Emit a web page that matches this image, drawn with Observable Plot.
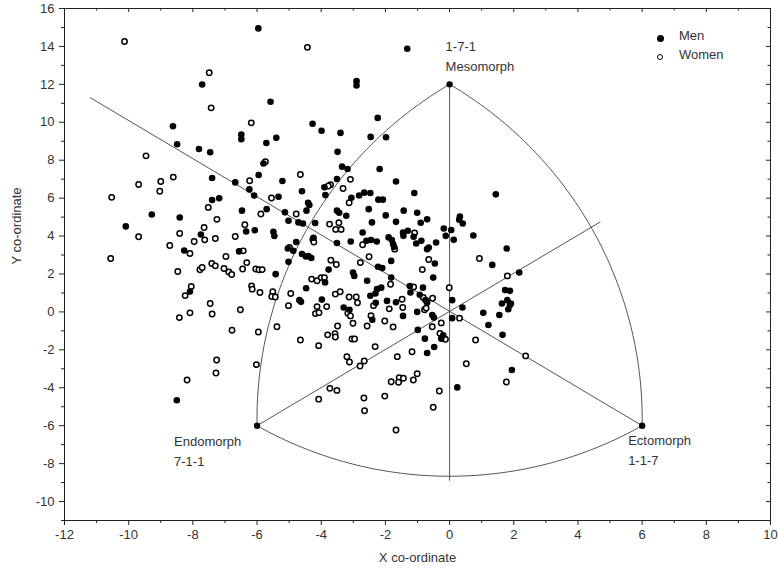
<!DOCTYPE html>
<html><head><meta charset="utf-8">
<script src="https://cdn.jsdelivr.net/npm/d3@7"></script>
<script src="https://cdn.jsdelivr.net/npm/@observablehq/plot@0.6"></script>
<style>
body{margin:0;background:#fff;}
#wrap{position:relative;width:778px;height:570px;font-family:"Liberation Sans",Arial,sans-serif;}
.leg{position:absolute;font-size:13px;color:#333;line-height:1;}
.dot{position:absolute;border-radius:50%;box-sizing:border-box;}
</style></head><body><div id="wrap"></div>
<script>
// ---- data (somatochart coordinates) ----
const men = [
[-7.71,11.99],[-8.62,9.79],[-8.49,8.84],[-7.81,8.59],[-7.46,8.42],[-6.49,9.35],[-6.49,9.11],
[-5.96,14.95],[-1.32,13.88],[-2.90,12.17],[-2.90,11.94],[-5.58,11.08],[-4.27,9.92],[-3.99,9.55],[-3.40,9.44],[-5.71,8.91],[-5.40,9.18],[-3.49,8.44],[-2.24,10.23],[-2.46,9.23],[-1.98,9.21],
[-7.40,7.06],[-6.68,6.83],[-7.40,5.90],[-7.18,5.99],[-6.47,5.34],[-9.28,5.14],[-8.41,4.98],[-10.09,4.51],[-7.75,4.08],[-8.27,3.24],[-6.56,3.19],[-8.09,1.07],[-8.50,-4.66],
[-5.80,7.83],[-3.35,7.66],[-3.18,7.54],[-2.18,7.54],[-5.95,7.22],[-5.21,6.90],[-1.67,6.88],[-3.51,7.01],[-3.90,6.57],[-4.60,6.36],[-6.24,6.46],[-6.09,6.14],[-5.33,6.07],[-3.87,6.16],[-3.06,6.02],[-2.82,6.14],[-2.66,6.29],[-2.47,6.27],[-2.22,5.92],[-2.08,5.92],[-4.41,5.76],[-4.37,5.64],[-2.52,5.42],[-1.43,5.34],[-5.70,5.42],[-5.13,5.25],[-4.46,5.34],[-3.51,5.34],[-3.44,5.23],[-3.22,5.07],[-1.99,5.09],[-5.02,4.81],[-4.71,4.72],[-4.57,4.66],[-4.19,4.69],[-2.42,4.72],[-1.67,4.75],[-6.34,4.24],[-6.07,4.31],[-5.49,4.23],[-5.46,4.00],[-4.24,3.91],[-2.71,4.19],[-1.90,3.93],[-1.80,3.79],[-3.08,3.71],[-2.59,3.75],[-2.45,3.79],[-2.27,3.71],[-3.51,3.63],[-4.78,3.68],[-1.76,3.58],[-1.73,3.43],[-5.04,3.34],[-4.87,3.22],[-4.60,3.05],[-4.48,2.92],[-4.40,2.94],[-4.31,2.84],[-5.02,2.64],[-5.42,1.99],[-3.77,2.23],[-1.82,2.69],[-2.23,2.38],[-2.10,2.31],[-3.01,2.08],[-2.97,1.90],[-1.82,1.81],[-4.47,1.25],[-3.88,1.55],[-2.57,1.64],[-2.13,1.28],[-2.26,1.20],[-4.68,0.62],[-4.63,0.53],[-3.98,0.65],[-2.47,0.85],[-2.31,0.97],[-1.95,0.58],
[-3.30,0.23],[-3.12,0.11],[-2.30,0.48],[-1.67,0.51],[-2.41,-0.41],
[-1.10,6.27],[1.44,6.20],[-1.01,5.23],[-0.90,4.70],[-0.70,4.88],[0.32,5.03],[0.30,4.86],[0.41,4.66],[-0.18,4.40],[0.05,4.32],[-0.12,4.01],[0.13,3.80],[0.74,4.03],[-1.45,4.19],[-1.30,4.28],[-1.44,4.01],[-1.12,3.96],[-0.88,3.75],[-1.04,3.61],[-0.42,3.66],[-0.65,3.40],[-0.70,3.31],[1.78,3.34],[-0.46,2.55],[1.33,2.48],[-0.51,1.81],[2.17,2.08],[-1.24,1.37],[-1.22,1.02],[-0.83,1.28],[-0.93,0.90],[-0.75,0.62],[-0.70,0.49],[0.08,0.62],[1.73,1.15],[1.88,1.11],[1.80,0.62],[1.91,0.44],[1.63,0.44],
[-1.45,-0.21],[-1.01,0.00],[-0.54,-0.16],[-0.49,-0.30],[0.08,-0.33],[0.40,0.23],[-0.99,-0.95],[-0.20,-1.23],[-0.26,-1.41],[-0.77,-1.41],[-0.48,-1.85],[-0.70,-2.17],[1.05,-0.05],[1.55,-0.16],[1.83,0.14],[1.88,0.37],[1.21,-0.69],[1.65,-1.21],[1.94,-3.06],[0.24,-3.98]
];
const women = [
[-10.13,14.26],[-7.49,12.61],[-7.43,10.76],[-9.46,8.23],
[-4.43,13.95],[-6.18,9.97],[-5.74,7.92],
[-10.53,6.04],[-9.69,6.72],[-9.00,6.88],[-9.03,6.36],[-8.61,7.11],[-7.52,5.51],[-7.25,4.88],[-9.69,3.96],[-8.41,4.14],[-7.65,4.45],[-7.63,3.80],[-7.30,3.87],[-7.96,3.71],[-6.68,3.98],[-8.72,3.50],[-8.09,3.08],[-6.43,3.22],[-10.56,2.82],[-6.97,2.92],[-8.47,2.13],[-7.78,2.22],[-7.71,2.34],[-7.41,2.55],[-7.30,2.43],[-7.03,2.29],[-6.88,2.11],[-6.79,1.97],[-6.45,2.26],[-8.05,1.34],[-8.24,0.86],[-7.46,0.44],
[-8.42,-0.30],[-8.09,-0.05],[-7.40,-0.11],[-6.52,0.11],[-6.78,-0.97],[-7.26,-2.54],[-7.28,-3.22],[-8.18,-3.59],
[-4.65,7.25],[-6.23,6.92],[-3.71,6.71],[-3.78,6.64],[-3.09,6.99],[-3.32,6.51],[-5.55,6.01],[-3.13,5.76],[-5.88,5.16],[-4.78,5.16],[-3.74,4.63],[-3.45,4.70],[-3.55,4.35],[-3.38,4.35],[-6.38,4.60],[-4.26,3.82],[-4.23,3.68],[-2.71,3.54],[-1.71,3.31],[-4.99,3.40],[-6.32,2.60],[-6.04,2.26],[-5.94,2.22],[-5.84,2.23],[-3.70,2.73],[-3.53,2.50],[-2.78,2.60],[-2.51,2.91],[-4.30,1.73],[-4.13,1.64],[-4.00,1.81],[-3.90,1.81],[-6.17,1.37],[-6.15,1.20],[-1.84,1.46],[-5.91,1.02],[-5.51,1.06],[-5.54,0.81],[-5.43,0.79],[-4.95,0.97],[-3.56,0.94],[-3.41,1.06],[-3.13,0.79],[-2.91,0.79],[-1.48,0.67],
[-5.02,0.33],[-4.13,0.28],[-3.83,0.28],[-4.18,-0.09],[-4.07,-0.04],[-3.17,-0.07],[-3.09,-0.21],[-2.87,0.48],[-2.37,0.33],[-1.88,0.16],[-1.46,0.23],[-2.45,-0.20],[-2.02,-0.48],[-1.76,-0.79],[-5.38,-0.78],[-5.96,-1.06],[-3.01,-0.60],[-2.57,-0.74],[-3.49,-0.74],[-3.80,-1.21],[-3.57,-1.15],[-3.56,-1.32],[-4.65,-1.48],[-3.04,-1.43],[-2.96,-1.43],[-4.08,-1.78],[-2.32,-1.83],[-3.20,-2.36],[-3.12,-2.64],[-2.66,-2.59],[-2.79,-2.85],[-1.63,-2.36],[-6.02,-2.78],[-1.57,-3.47],[-1.44,-3.50],[-1.82,-3.68],[-1.59,-3.71],[-3.73,-4.03],[-3.51,-4.14],[-4.08,-4.60],[-2.67,-4.54],[-2.02,-4.44],[-2.65,-5.21],[-1.67,-6.23],
[-1.09,4.16],[-0.65,2.76],[-0.85,2.23],[0.93,2.82],[1.80,1.90],[-0.01,1.27],[-1.12,1.32],[-0.82,0.76],[-0.53,0.72],
[-0.78,0.11],[-0.73,0.20],[-0.26,-0.58],[0.31,-0.33],[-0.54,-0.78],[-0.30,-1.13],[-0.13,-1.44],[-1.17,-2.10],[0.81,-1.48],[2.37,-2.32],[1.77,-3.70],[0.52,-2.73],[-1.01,-3.26],[-1.13,-3.59],[-0.32,-4.17],[-0.51,-5.03]
];
// somatotype reference vertices
const vertexNames = ["Mesomorph", "Endomorph", "Ectomorph"];
const vertexCodes = ["1-7-1", "7-1-1", "1-1-7"];
const vertexX = [0, -6, 6];
const vertexY = [12, -6, -6];
// axis lines through the origin (end points)
const axisLineX1 = [0, 6, -6], axisLineY1 = [12, -6, -6];
const axisLineX2 = [0, -11.2, 4.7], axisLineY2 = [-8.9, 11.3, 4.75];
const xTicks = [-12,-10,-8,-6,-4,-2,0,2,4,6,8,10];
const yTicks = [-10,-8,-6,-4,-2,0,2,4,6,8,10,12,14,16];
const xMinor = [-11,-9,-7,-5,-3,-1,1,3,5,7,9];
const yMinor = [-11,-9,-7,-5,-3,-1,1,3,5,7,9,11,13,15];

// ---- layout ----
const W = 778, H = 570, mL = 64, mR = 8, mT = 8, mB = 50;
const xDom = [-12, 10], yDom = [-11, 16];
const kx = (W - mL - mR) / (xDom[1] - xDom[0]);
const ky = (H - mT - mB) / (yDom[1] - yDom[0]);

const V = vertexNames.map((n, i) => ({name: n, code: vertexCodes[i], x: vertexX[i], y: vertexY[i]}));
const lines = axisLineX1.map((d, i) => ({x1: d, y1: axisLineY1[i], x2: axisLineX2[i], y2: axisLineY2[i]}));

// Reuleaux-style arcs (circular in screen space, centred on the opposite vertex)
function arc(c, a, b, key, n = 90) {
  const cu = c.x * kx, cv = c.y * ky;
  const au = a.x * kx - cu, av = a.y * ky - cv, bu = b.x * kx - cu, bv = b.y * ky - cv;
  const ra = Math.hypot(au, av), rb = Math.hypot(bu, bv);
  const ta = Math.atan2(av, au);
  let d = Math.atan2(bv, bu) - ta;
  if (d > Math.PI) d -= 2 * Math.PI;
  if (d < -Math.PI) d += 2 * Math.PI;
  return d3.range(n + 1).map(i => {
    const t = i / n, th = ta + d * t, r = ra + (rb - ra) * t;
    return {k: key, x: (cu + r * Math.cos(th)) / kx, y: (cv + r * Math.sin(th)) / ky};
  });
}
const [meso, endo, ecto] = V;
const arcs = [...arc(ecto, endo, meso, "l"), ...arc(endo, meso, ecto, "r"), ...arc(meso, endo, ecto, "b")];

const ink = "#333";
const fmt = d => String(d);
const chart = Plot.plot({
  width: W, height: H,
  marginLeft: mL, marginRight: mR, marginTop: mT, marginBottom: mB,
  x: {domain: xDom},
  y: {domain: yDom},
  style: {fontFamily: "'Liberation Sans', Arial, sans-serif", fontSize: "13px", color: ink, background: "white"},
  marks: [
    Plot.frame({stroke: "#222", strokeWidth: 1}),
    Plot.axisX(xTicks, {anchor: "bottom", tickSize: 5, tickPadding: 4, tickFormat: fmt, label: null, fontSize: 13, stroke: "#222"}),
    Plot.axisY(yTicks, {anchor: "left", tickSize: 5, tickPadding: 5, tickFormat: fmt, label: null, fontSize: 13, stroke: "#222"}),
    Plot.ruleX(xMinor, {x: d => d, y1: yDom[0], y2: yDom[0] - 3 / ky, stroke: "#222"}),
    Plot.ruleY(yMinor, {y: d => d, x1: xDom[0], x2: xDom[0] - 3 / kx, stroke: "#222"}),
    Plot.ruleX(xTicks, {x: d => d, y1: yDom[1], y2: yDom[1] - 4 / ky, stroke: "#222"}),
    Plot.ruleX(xMinor, {x: d => d, y1: yDom[1], y2: yDom[1] - 2.5 / ky, stroke: "#222"}),
    Plot.ruleY(yTicks, {y: d => d, x1: xDom[1], x2: xDom[1] - 4 / kx, stroke: "#222"}),
    Plot.ruleY(yMinor, {y: d => d, x1: xDom[1], x2: xDom[1] - 2.5 / kx, stroke: "#222"}),
    Plot.text(["X co-ordinate"], {frameAnchor: "bottom", dy: 37, lineAnchor: "middle", fill: ink}),
    Plot.text(["Y co-ordinate"], {frameAnchor: "left", dx: -48, rotate: -90, fill: ink}),
    Plot.link(lines, {x1: "x1", y1: "y1", x2: "x2", y2: "y2", stroke: "#555", strokeWidth: 1}),
    Plot.line(arcs, {x: "x", y: "y", z: "k", stroke: "#555", strokeWidth: 1}),
    Plot.dot(women, {x: d => d[0], y: d => d[1], r: 2.7, fill: "white", stroke: "black", strokeWidth: 1.5}),
    Plot.dot(men, {x: d => d[0], y: d => d[1], r: 3.3, fill: "black", stroke: "none"}),
    Plot.dot(V, {x: "x", y: "y", r: 3.2, fill: "black"}),
    Plot.text(V.filter(d => d.name === "Mesomorph"), {x: "x", y: "y", text: d => d.code + "\n" + d.name, textAnchor: "start", lineAnchor: "bottom", lineHeight: 1.6, dx: -4, dy: -13, fill: ink}),
    Plot.text(V.filter(d => d.name === "Endomorph"), {x: "x", y: "y", text: d => d.name + "\n" + d.code, textAnchor: "start", lineAnchor: "top", lineHeight: 1.55, dx: -83, dy: 6, fill: ink}),
    Plot.text(V.filter(d => d.name === "Ectomorph"), {x: "x", y: "y", text: d => d.name + "\n" + d.code, textAnchor: "start", lineAnchor: "top", lineHeight: 1.55, dx: -14, dy: 5, fill: ink})
  ]
});
const wrap = document.getElementById("wrap");
wrap.appendChild(chart);
// legend (overlaid in the upper-right of the frame)
const legend = [{label: "Men", fill: "black"}, {label: "Women", fill: "white"}];
legend.forEach((d, i) => {
  const dot = document.createElement("div");
  dot.className = "dot";
  const s = d.fill === "black" ? 7 : 6;
  dot.style.cssText = `left:${660 - s/2}px;top:${38 + i*19 - s/2}px;width:${s}px;height:${s}px;background:${d.fill};border:${d.fill === "black" ? "none" : "1.5px solid black"}`;
  wrap.appendChild(dot);
  const t = document.createElement("div");
  t.className = "leg";
  t.textContent = d.label;
  t.style.left = "679px";
  t.style.top = (29 + i*19) + "px";
  wrap.appendChild(t);
});
</script></body></html>
